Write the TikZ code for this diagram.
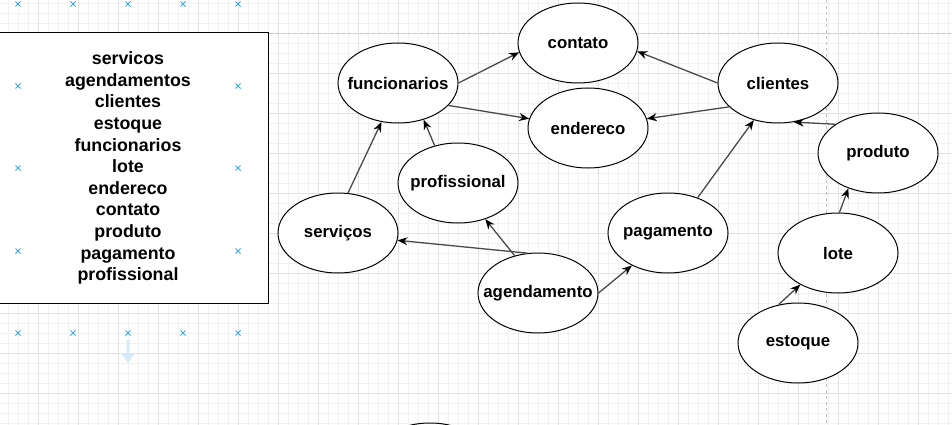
\documentclass[tikz,border=0pt]{standalone}
\usepackage{fontspec}
\setmainfont{Liberation Sans}
\usetikzlibrary{arrows.meta,shapes.geometric}
\definecolor{gridmaj}{HTML}{E0E0E0}
\definecolor{gridmin}{HTML}{F2F2F2}
\definecolor{linegray}{HTML}{4A4A4A}
\definecolor{handle}{HTML}{3AA8E6}
\definecolor{paleblue}{HTML}{D4EAF8}
\definecolor{pageline}{HTML}{C4C4C4}
\begin{document}
\begin{tikzpicture}[x=1pt,y=-1pt,
  ell/.style={ellipse,draw=black,fill=white,line width=1pt,minimum width=120pt,minimum height=80pt,inner sep=0pt,font=\bfseries\fontsize{16.8}{20}\selectfont},
  conn/.style={draw=linegray,line width=1.3pt,-{Stealth[length=10pt,width=8pt,color=black]}},
  hmark/.style={draw=handle,line width=1pt},
  listbox/.style={draw=black,fill=white,line width=1pt}]
\useasboundingbox (0,0) rectangle (952,425);
\clip (0,0) rectangle (952,425);
% grid
\foreach \x in {8,18,...,948} \draw[gridmin,line width=0.8pt] (\x,0) -- (\x,425);
\foreach \y in {3,13,...,423} \draw[gridmin,line width=0.8pt] (0,\y) -- (952,\y);
\foreach \x in {-2,38,...,918} \draw[gridmaj,line width=0.9pt] (\x,0) -- (\x,425);
\foreach \y in {33,73,...,393} \draw[gridmaj,line width=0.9pt] (0,\y) -- (952,\y);
% page boundaries
\draw[pageline,dashed,line width=0.8pt] (0,33) -- (952,33);
\draw[pageline,dashed,line width=0.8pt] (826,0) -- (826,425);
% list box
\draw[listbox] (-5,33) rectangle (268,303);
\node[align=center,font=\bfseries\fontsize{17.8}{21.6}\selectfont] (list) at (128,168)
  {servicos\\agendamentos\\clientes\\estoque\\funcionarios\\lote\\endereco\\contato\\produto\\pagamento\\profissional};
% selection handles
\foreach \p in {(18,4),(73,4),(128,4),(183,4),(238,4),(18,86),(238,86),(18,168),(238,168),(18,251),(238,251),(18,333),(73,333),(128,333),(183,333),(238,333)}
  \draw[hmark] \p ++(-2.5,-2.5) -- ++(5,5) \p ++(-2.5,2.5) -- ++(5,-5);
\fill[paleblue] (126.5,340) -- (129.5,340) -- (129.5,353) -- (135,353) -- (128,363) -- (121,353) -- (126.5,353) -- cycle;
% nodes
\node[ell] (cont) at (578,43) {\clap{contato}};
\node[ell] (func) at (398,83) {\clap{funcionarios}};
\node[ell] (ende) at (588,128) {\clap{endereco}};
\node[ell] (prof) at (458,183) {\clap{profissional}};
\node[ell] (clie) at (778,83) {\clap{clientes}};
\node[ell] (prod) at (878,153) {\clap{produto}};
\node[ell] (serv) at (338,233) {\clap{serviços}};
\node[ell] (agen) at (538,293) {\clap{agendamento}};
\node[ell] (paga) at (668,233) {\clap{pagamento}};
\node[ell] (lote) at (838,253) {\clap{lote}};
\node[ell] (esto) at (798,343) {\clap{estoque}};
\node[ell] (extra) at (430,463) {};
% connectors
\draw[conn] (serv.76) -- (func.247);
\draw[conn] (prof.122) -- (func.305);
\draw[conn] (func.0) -- (cont.189);
\draw[conn] (func.-24) -- (ende.171);
\draw[conn] (clie.180) -- (cont.-8);
\draw[conn] (clie.206) -- (ende.9.5);
\draw[conn] (prod.146) -- (clie.-68);
\draw[conn] (paga.50) -- (clie.237);
\draw[conn] (lote.88) -- (prod.230);
\draw[conn] (esto.117) -- (lote.220);
\draw[conn] (agen.105) -- (serv.-7);
\draw[conn] (agen.122) -- (prof.-53);
\draw[conn] (agen.0) -- (paga.222);
\end{tikzpicture}
\end{document}
